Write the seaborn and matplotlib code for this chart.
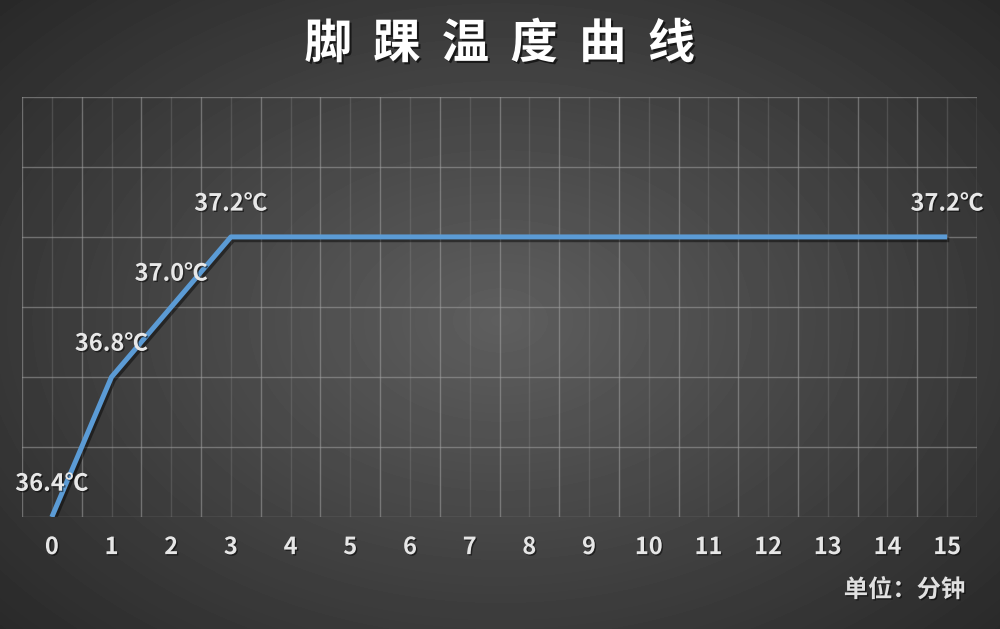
import numpy as np
import pandas as pd
import matplotlib
matplotlib.use("Agg")
import matplotlib.pyplot as plt
import matplotlib.patheffects as pe
import seaborn as sns

# data
minutes = list(range(16))
temps = [36.4, 36.8, 37.0, 37.2, 37.2, 37.2, 37.2, 37.2,
         37.2, 37.2, 37.2, 37.2, 37.2, 37.2, 37.2, 37.2]
labelled = [0, 1, 2, 3, 15]
title = "脚踝温度曲线"
unit_text = "单位：分钟"

df = pd.DataFrame({"minute": minutes, "temp": temps})

sns.set_theme(style="dark")
plt.rcParams['font.family'] = ['Noto Sans CJK SC', 'DejaVu Sans']
plt.rcParams['font.weight'] = 'bold'

shadow = [pe.withSimplePatchShadow(offset=(1, -1), shadow_rgbFace="black", alpha=0.5)]

fig = plt.figure(figsize=(10, 6.29), dpi=100)

# radial grey background
bg = fig.add_axes([0, 0, 1, 1], zorder=0)
yy, xx = np.mgrid[0:629, 0:1000]
r = np.sqrt(((xx - 500) / 620.0) ** 2 + ((yy - 320) / 420.0) ** 2)
shade = np.clip(0.37 - 0.19 * r, 0.15, 0.4)
bg.imshow(shade, cmap="gray", vmin=0, vmax=1, aspect="auto", interpolation="bilinear")
bg.axis("off")

ax = fig.add_axes([0.022, 0.178, 0.955, 0.668], zorder=1)
ax.set_facecolor("none")

sns.lineplot(data=df, x="minute", y="temp", ax=ax, color="#5b9bd5", linewidth=3.6,
             solid_capstyle="butt",
             path_effects=[pe.SimpleLineShadow(offset=(1.5, -2), shadow_color="black", alpha=0.45),
                           pe.Normal()])

ax.set_xlim(-0.5, 15.5)
ax.set_ylim(36.4, 37.6)

# major grid on category boundaries, minor on categories
ax.set_xticks(np.arange(-0.5, 15.6, 1.0))
ax.set_xticks(minutes, minor=True)
ax.set_xticklabels([])
ax.set_xticklabels([str(m) for m in minutes], minor=True)
ax.set_yticks(np.arange(36.4, 37.61, 0.2))
ax.set_yticklabels([])
ax.grid(True, which="major", axis="both", color="#a0a0a0", alpha=0.55, linewidth=1)
ax.grid(True, which="minor", axis="x", color="#8a8a8a", alpha=0.3, linewidth=1)
ax.tick_params(which="both", length=0)
ax.tick_params(axis="x", which="minor", pad=13, labelsize=17, labelcolor="#e6e6e6")
for t in ax.get_xticklabels(minor=True):
    t.set_fontweight("bold")
    t.set_path_effects(shadow)
for s in ax.spines.values():
    s.set_visible(False)
ax.set_xlabel("")
ax.set_ylabel("")

for i in labelled:
    ax.annotate(f"{temps[i]:.1f}℃", (minutes[i], temps[i]), xytext=(0, 24),
                textcoords="offset points", ha="center", va="center",
                fontsize=17, fontweight="bold", color="#e8e8e8", path_effects=shadow)

fig.text(0.5, 0.93, "  ".join(title), ha="center", va="center", fontsize=34, fontweight="bold",
         color="white",
         path_effects=[pe.withSimplePatchShadow(offset=(1.5, -1.5), shadow_rgbFace="black", alpha=0.6)])
fig.text(0.965, 0.062, unit_text, ha="right", va="center", fontsize=17.5, fontweight="bold",
         color="#e0e0e0", path_effects=shadow)

fig.savefig("out.png", dpi=100)
